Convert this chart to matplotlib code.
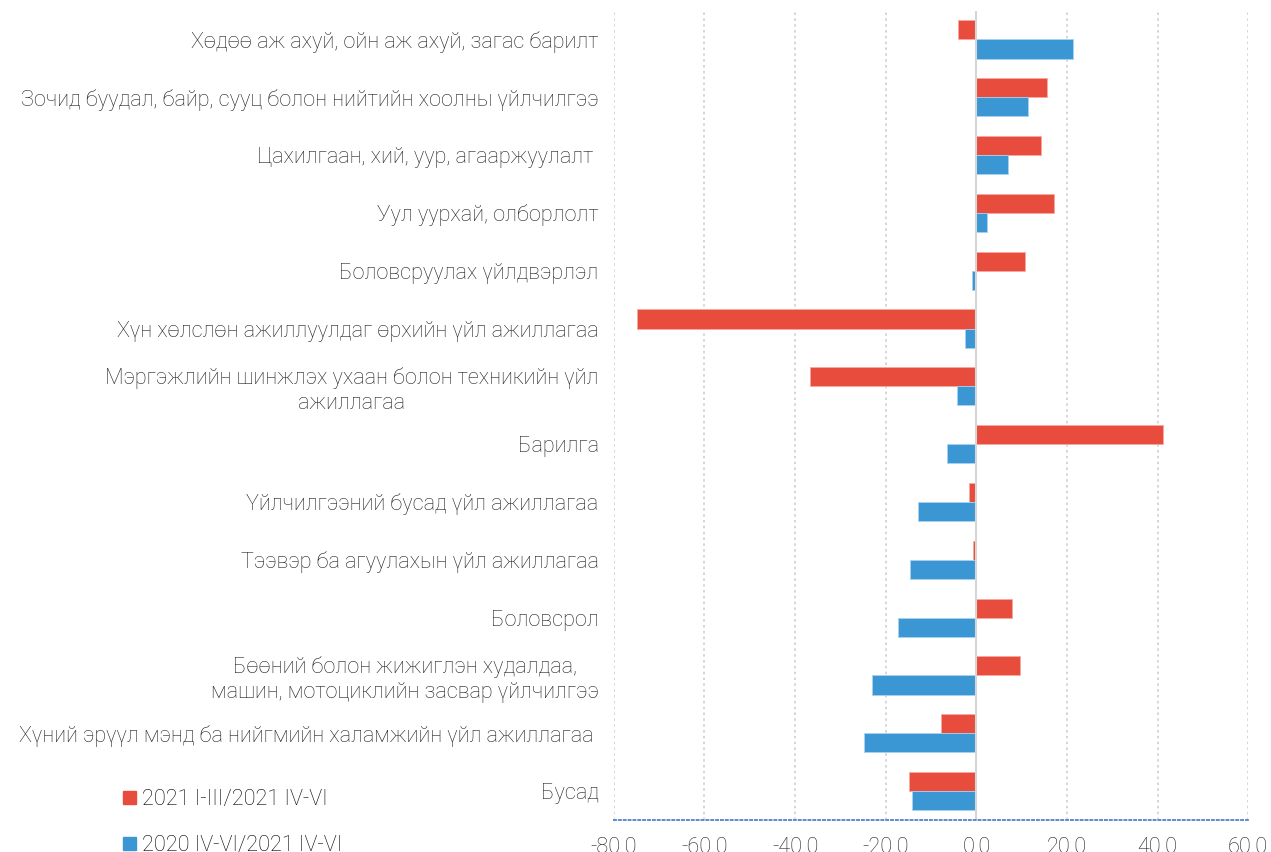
import matplotlib
matplotlib.use("Agg")
import numpy as np
import matplotlib.pyplot as plt
from matplotlib.patches import Patch

plt.rcParams['font.family'] = ['Roboto', 'DejaVu Sans']

categories = [
    "Хөдөө аж ахуй, ойн аж ахуй, загас барилт",
    "Зочид буудал, байр, сууц болон нийтийн хоолны үйлчилгээ",
    "Цахилгаан, хий, уур, агааржуулалт ",
    "Уул уурхай, олборлолт",
    "Боловсруулах үйлдвэрлэл",
    "Хүн хөлслөн ажиллуулдаг өрхийн үйл ажиллагаа",
    "Мэргэжлийн шинжлэх ухаан болон техникийн үйл\nажиллагаа",
    "Барилга",
    "Үйлчилгээний бусад үйл ажиллагаа",
    "Тээвэр ба агуулахын үйл ажиллагаа",
    "Боловсрол",
    "Бөөний болон жижиглэн худалдаа,\nмашин, мотоциклийн засвар үйлчилгээ",
    "Хүний эрүүл мэнд ба нийгмийн халамжийн үйл ажиллагаа ",
    "Бусад",
]
q1_2021 = [-4.1, 15.5, 14.2, 17.1, 10.7, -74.9, -36.8, 41.3, -1.7, -0.8, 7.9, 9.6, -7.7, -14.8]
q2_2020 = [21.3, 11.3, 7.0, 2.4, -1.0, -2.6, -4.3, -6.5, -12.9, -14.6, -17.2, -23.0, -24.7, -14.1]
series_names = ["2021 I-III/2021 IV-VI", "2020 IV-VI/2021 IV-VI"]
xticks = [-80, -60, -40, -20, 0, 20, 40, 60]

red = '#E74C3C'
blue = '#3A97D4'
fs = 15.6

fig = plt.figure(figsize=(12.71, 8.52), dpi=100)
ax = fig.add_axes([0.483, 0.0376, 0.499, 0.950])

y = np.arange(len(categories))
h = 0.33
ax.barh(y - h / 2, q1_2021, height=h, color=red, edgecolor='#F5A9A1', linewidth=0.6)
ax.barh(y + h / 2, q2_2020, height=h, color=blue, edgecolor='#A9D2EE', linewidth=0.6)

ax.set_xlim(-80, 60)
ax.set_ylim(len(categories) - 0.5, -0.5)
ax.set_xticks(xticks)
ax.set_xticklabels([f"{v:.1f}" for v in xticks], fontsize=fs, fontweight='light', color='#222222')
ax.set_yticks(y)
ax.set_yticklabels(categories, fontsize=fs, fontweight='light', color='#222222',
                   multialignment='center')
ax.tick_params(axis='both', length=0)
ax.tick_params(axis='y', pad=11)
ax.tick_params(axis='x', pad=12)

ax.grid(axis='x', color='#CFCFCF', linestyle=(0, (1.5, 2)), linewidth=1.2)
ax.set_axisbelow(True)
ax.axvline(0, color='#D6D6D6', linewidth=1.5, zorder=1)

for s in ['top', 'right', 'left']:
    ax.spines[s].set_visible(False)
ax.spines['bottom'].set_color('#5B8BD0')
ax.spines['bottom'].set_linestyle((0, (1, 1.5)))
ax.spines['bottom'].set_linewidth(1.4)

handles = [Patch(color=red), Patch(color=blue)]
fig.legend(handles, series_names, loc='upper left', bbox_to_anchor=(0.090, 0.084),
           frameon=False, handlelength=0.58, handleheight=0.58,
           handletextpad=0.3, labelspacing=1.15, borderaxespad=0,
           prop={'weight': 'light', 'size': fs})

fig.savefig("out.png", dpi=100)
